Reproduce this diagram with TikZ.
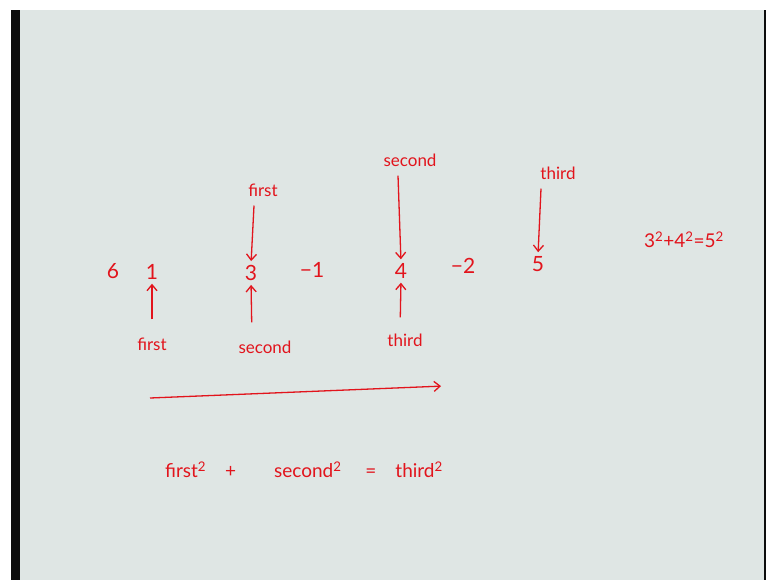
\documentclass[tikz,border=0pt]{standalone}
\usepackage{fontspec}
\setmainfont{Lato}
\usetikzlibrary{arrows.meta,positioning}
\definecolor{bdink}{HTML}{E2141C}
\definecolor{bdboard}{HTML}{DFE6E4}
\definecolor{bdedge}{HTML}{0C0C0C}
\tikzset{
  num/.style={text=bdink,font=\fontsize{21}{23}\selectfont,inner sep=1pt},
  word/.style={text=bdink,font=\fontsize{17}{19}\selectfont,inner sep=1pt},
  eqn/.style={text=bdink,font=\fontsize{19}{22}\selectfont,inner sep=1pt},
  ar/.style={-{Straight Barb[length=6pt,width=10pt]},line width=1.3pt,bdink,shorten >=3pt},
}
\begin{document}
\begin{tikzpicture}[x=1pt,y=-1pt]
    \useasboundingbox (0,0) rectangle (767,580);
    \fill[white] (0,0) rectangle (767,580);
    \fill[bdedge] (11,10) rectangle (20,580);
    \fill[bdboard] (20,10) rectangle (764,580);
    \fill[bdedge] (764,10) rectangle (766,580);
    % numbers on the line
    \node[num] (six) at (113,271) {6};
    \node[num] (one) at (152,272) {1};
    \node[num] (three) at (251,273) {3};
    \node[num] (mone) at (312,270) {−1};
    \node[num] (four) at (401,271) {4};
    \node[num] (mtwo) at (463,266) {−2};
    \node[num] (five) at (538,264) {5};
    \node[eqn] (check) at (684,240) {3\textsuperscript{2}+4\textsuperscript{2}=5\textsuperscript{2}};
    % pointers above
    \node[word] (topA) at (263,190) {first};
    \node[word] (topB) at (410,160) {second};
    \node[word] (topC) at (558,173) {third};
    \draw[ar] ([xshift=-9pt,yshift=-8pt]topA.south) -- (three.north);
    \draw[ar] ([xshift=-12pt,yshift=-8pt]topB.south) -- (four.north);
    \draw[ar] ([xshift=-17pt,yshift=-8pt]topC.south) -- (five.north);
    % pointers below
    \node[word] (botA) at (152,344) {first};
    \node[word] (botB) at (265,347) {second};
    \node[word] (botC) at (405,340) {third};
    \draw[ar,shorten <=17pt] (botA.north) -- (one.south);
    \draw[ar,shorten <=17pt] ([xshift=-13pt]botB.north) -- (three.south);
    \draw[ar,shorten <=15pt] ([xshift=-5pt]botC.north) -- (four.south);
    % direction of the scan
    \coordinate (scanA) at (150,398);
    \coordinate (scanB) at (444,386);
    \draw[ar] (scanA) -- (scanB);
    \node[eqn] (rule) at (304,470) {first\textsuperscript{2}\quad+\qquad second\textsuperscript{2}\quad\ =\quad third\textsuperscript{2}};
  \end{tikzpicture}
\end{document}
